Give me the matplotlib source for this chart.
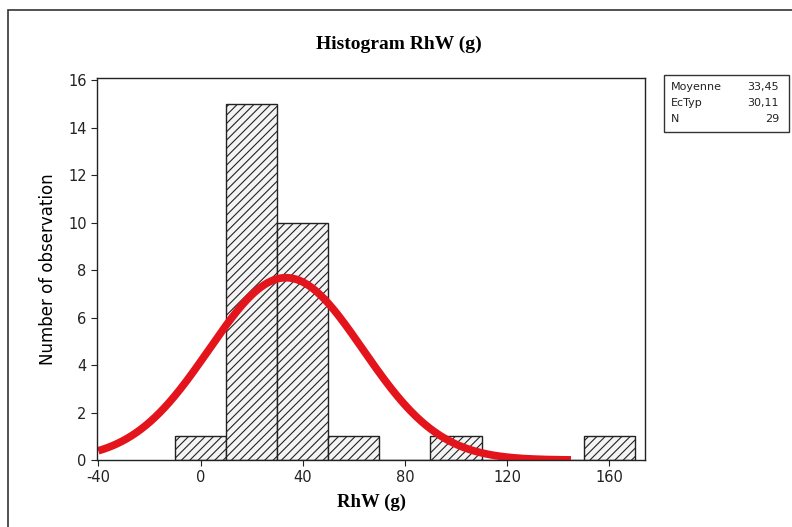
import matplotlib.pyplot as plt
import matplotlib.patches as mpatches
import numpy as np

# histogram bins (width 20) and counts
bin_edges = [-10, 10, 30, 50, 70, 90, 110, 130, 150, 170]
counts = [1, 15, 10, 1, 0, 1, 0, 0, 1]

# fitted normal stats shown in the box
mean = 33.45
sd = 30.11
n_obs = 29
curve_range = (-40, 145)

xticks = [-40, 0, 40, 80, 120, 160]
yticks = [0, 2, 4, 6, 8, 10, 12, 14, 16]

plt.rcParams['hatch.linewidth'] = 0.8
plt.rcParams['axes.unicode_minus'] = False

fig = plt.figure(figsize=(7.92, 5.27), dpi=100)
ax = fig.add_axes([0.1225, 0.127, 0.692, 0.725])

widths = np.diff(bin_edges)
ax.bar(bin_edges[:-1], counts, width=widths, align='edge',
       facecolor='#f4f4f4', edgecolor='#222222', linewidth=1.0, hatch='////')

# normal curve scaled to counts
xs = np.linspace(curve_range[0], curve_range[1], 300)
bw = widths[0]
ys = n_obs * bw / (sd * np.sqrt(2 * np.pi)) * np.exp(-0.5 * ((xs - mean) / sd) ** 2)
ax.plot(xs, ys, color='#e3141b', linewidth=5.5, solid_capstyle='butt')

ax.set_xlim(-40.5, 174)
ax.set_ylim(0, 16.1)
ax.set_xticks(xticks)
ax.set_yticks(yticks)
ax.tick_params(direction='out', length=4, width=0.8, labelsize=10.5, colors='#222222')
for s in ax.spines.values():
    s.set_linewidth(1.0)
    s.set_color('#222222')

ax.set_xlabel('RhW (g)', family='Liberation Serif', fontweight='bold', fontsize=13.5, labelpad=6)
ax.set_ylabel('Number of observation', fontsize=12, labelpad=8)
fig.text(0.503, 0.915, 'Histogram RhW (g)', family='Liberation Serif', fontweight='bold',
         fontsize=14, ha='center', va='center')

# outer frame
fig.patches.append(mpatches.Rectangle((8 / 792, -0.05), 1.0, 1 - 10 / 527 + 0.05,
                                      transform=fig.transFigure, fill=False,
                                      edgecolor='#333333', linewidth=1.2))

# stats box
fig.patches.append(mpatches.Rectangle((664 / 792, 1 - 132 / 527), 125 / 792, 57 / 527,
                                      transform=fig.transFigure, fill=False,
                                      edgecolor='#333333', linewidth=1.0))
labels = ['Moyenne', 'EcTyp', 'N']
values = ['33,45', '30,11', '29']
for i, (lab, val) in enumerate(zip(labels, values)):
    y = 1 - (87 + 16 * i) / 527
    fig.text(671 / 792, y, lab, fontsize=8, ha='left', va='center', color='#222222')
    fig.text(779 / 792, y, val, fontsize=8, ha='right', va='center', color='#222222')

fig.savefig('out.png', dpi=100)
